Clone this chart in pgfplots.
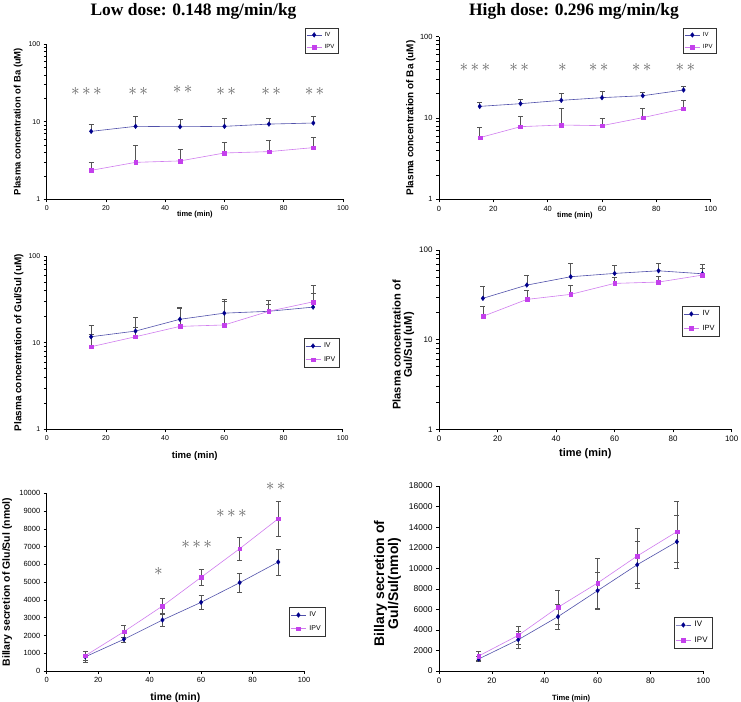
\documentclass[border=0pt]{standalone}
\usepackage{pgfplots}
\pgfplotsset{compat=1.18}
\usepackage{fontspec}
\setmainfont{Liberation Sans}
\newfontfamily\titlefont{Liberation Serif}

\definecolor{ivm}{RGB}{0,0,140}
\definecolor{ivl}{RGB}{80,80,170}
\definecolor{ipvm}{RGB}{196,64,236}
\definecolor{ipvl}{RGB}{208,125,238}
\definecolor{errc}{RGB}{85,85,85}
\definecolor{starc}{RGB}{100,100,100}

\newcommand{\fs}[1]{\fontsize{#1}{#1}\selectfont}
\newcommand{\stars}[1]{\fs{19}$\ifcase#1\or{\ast}\or{\ast}\mkern2.5mu{\ast}\or{\ast}\mkern2.5mu{\ast}\mkern2.5mu{\ast}\fi$}

\pgfplotsset{
  base/.style={
    scale only axis, axis lines*=left, xmin=0, xmax=100, xtick={0,20,...,100},
    tick align=outside, major tick length=3bp, minor tick num=0,
    tick style={black, line width=0.5bp},
    axis line style={black, line width=0.6bp},
    /pgf/number format/assume math mode=true,
    /pgf/number format/set thousands separator={},
    scaled y ticks=false,
    clip=false,
    legend cell align=left,
    legend image code/.code={\draw[mark repeat=2,mark phase=2,##1] plot coordinates {(0bp,0bp) (7.5bp,0bp) (15bp,0bp)};},
  },
  mylogy/.style={ymin=1, ymax=100, ytick={1,10,100}, yticklabels={1,10,100}},
  myleg/.style n args={4}{legend style={at={(rel axis cs:#1,#2)}, anchor=north west,
    font=\fs{#3}, draw=black!80, line width=0.6bp, fill=white,
    inner sep=1bp, row sep=1bp, nodes={inner sep=#4}}},
  iv/.style={color=ivl, line width=0.6bp, mark=diamond*, mark size=2.4bp,
    mark options={fill=ivm, draw=ivm, line width=0.3bp},
    error bars/y dir=#1, error bars/y explicit,
    error bars/error bar style={errc, line width=0.6bp},
    error bars/error mark options={errc, rotate=90, mark size=2.5bp, line width=0.6bp}},
  ipv/.style={color=ipvl, line width=0.6bp, mark=square*, mark size=1.9bp,
    mark options={fill=ipvm, draw=ipvm, line width=0.3bp},
    error bars/y dir=#1, error bars/y explicit,
    error bars/error bar style={errc, line width=0.6bp},
    error bars/error mark options={errc, rotate=90, mark size=2.5bp, line width=0.6bp}},
}

\begin{document}
\begin{tikzpicture}
\path[use as bounding box] (0,0) rectangle (741bp,702bp);

\node[font=\titlefont\bfseries\fs{17.5}] at (193.5bp,690.5bp) {Low dose: 0.148 mg/min/kg};
\node[font=\titlefont\bfseries\fs{17.5}] at (574bp,690.5bp) {High dose: 0.296 mg/min/kg};

% ---------------- Panel 1
\begin{axis}[ymode=log, base, mylogy, at={(46.7bp,502.7bp)}, anchor=south west,
  width=296.3bp, height=155.3bp,
  ticklabel style={font=\fs{7}},
  xlabel={time (min)}, ylabel={Plasma concentration of Ba (uM)},
  xlabel style={font=\bfseries\fs{7.5}, at={(axis description cs:0.5,-0.101)}, anchor=center},
  ylabel style={font=\bfseries\fs{9.5}, at={(axis description cs:-0.096,0.5)}, anchor=center},
  myleg={0.872}{1.103}{6}{2.8bp}]
\addplot[iv=plus] table[y error=e] {
x y e
15 7.5 1.65
30 8.7 3.0
45 8.6 2.1
60 8.7 2.2
75 9.3 1.8
90 9.6 2.1
};
\addlegendentry{IV}
\addplot[ipv=plus] table[y error=e] {
x y e
15 2.36 0.63
30 2.99 1.92
45 3.12 1.28
60 3.95 1.47
75 4.11 1.64
90 4.63 1.66
};
\addlegendentry{IPV}
\node[starc] at (axis cs:13.4,24.3) {\stars{3}};
\node[starc] at (axis cs:30.9,24.3) {\stars{2}};
\node[starc] at (axis cs:45.9,26.1) {\stars{2}};
\node[starc] at (axis cs:60.6,24.3) {\stars{2}};
\node[starc] at (axis cs:75.8,24.3) {\stars{2}};
\node[starc] at (axis cs:90.4,24.3) {\stars{2}};
\end{axis}

% ---------------- Panel 2
\begin{axis}[ymode=log, base, mylogy, at={(439bp,502.7bp)}, anchor=south west,
  width=271.7bp, height=162.6bp,
  ticklabel style={font=\fs{7.5}},
  xlabel={time (min)}, ylabel={Plasma concentration of Ba (uM)},
  xlabel style={font=\bfseries\fs{7.5}, at={(axis description cs:0.5,-0.103)}, anchor=center},
  ylabel style={font=\bfseries\fs{10}, at={(axis description cs:-0.104,0.5)}, anchor=center},
  myleg={0.899}{1.053}{6}{2.8bp}]
\addplot[iv=plus] table[y error=e] {
x y e
15 13.9 1.8
30 15.0 2.0
45 16.5 3.4
60 17.8 3.5
75 18.8 2.1
90 22.1 2.6
};
\addlegendentry{IV}
\addplot[ipv=plus] table[y error=e] {
x y e
15 5.73 1.95
30 7.82 2.78
45 8.2 4.8
60 8.05 1.95
75 10.1 3.1
90 13.0 3.5
};
\addlegendentry{IPV}
\node[starc] at (axis cs:13.2,42) {\stars{3}};
\node[starc] at (axis cs:29.5,42) {\stars{2}};
\node[starc] at (axis cs:45.4,42) {\stars{1}};
\node[starc] at (axis cs:58.8,42) {\stars{2}};
\node[starc] at (axis cs:74.6,42) {\stars{2}};
\node[starc] at (axis cs:90.7,42) {\stars{2}};
\end{axis}

% ---------------- Panel 3
\begin{axis}[ymode=log, base, mylogy, at={(46.7bp,272.7bp)}, anchor=south west,
  width=296bp, height=173.3bp,
  ticklabel style={font=\fs{7}},
  xlabel={time (min)}, ylabel={Plasma concentration of Gul/Sul (uM)},
  xlabel style={font=\bfseries\fs{9.6}, at={(axis description cs:0.5,-0.152)}, anchor=center},
  ylabel style={font=\bfseries\fs{10}, at={(axis description cs:-0.094,0.5)}, anchor=center},
  myleg={0.869}{0.525}{7}{3.2bp}]
\addplot[iv=plus] table[y error=e] {
x y e
15 11.7 4.1
30 13.6 6.0
45 18.6 7.3
60 21.9 8.1
75 23.0 7.5
90 25.7 11.0
};
\addlegendentry{IV}
\addplot[ipv=plus] table[y error=e] {
x y e
15 8.97 3.5
30 11.7 3.2
45 15.4 9.5
60 16.0 15.8
75 23.0 5.0
90 29.6 16.2
};
\addlegendentry{IPV}
\end{axis}

% ---------------- Panel 4
\begin{axis}[ymode=log, base, mylogy, at={(439bp,272.7bp)}, anchor=south west,
  width=292.7bp, height=179.3bp,
  ticklabel style={font=\fs{8}},
  xlabel={time (min)}, ylabel={Plasma concentration of\\Gul/Sul (uM)},
  xlabel style={font=\bfseries\fs{11}, at={(axis description cs:0.5,-0.138)}, anchor=center},
  ylabel style={font=\bfseries\fs{11.2}, align=center, at={(axis description cs:-0.122,0.47)}, anchor=center},
  myleg={0.831}{0.688}{7.5}{3.4bp}]
\addplot[iv=plus] table[y error=e] {
x y e
15 28.9 10.0
30 40.6 11.5
45 50.3 20.5
60 54.8 11.9
75 58.6 12.2
90 54.3 14.8
};
\addlegendentry{IV}
\addplot[ipv=plus] table[y error=e] {
x y e
15 18.2 5.1
30 28.1 7.0
45 32.0 8.3
60 42.4 7.0
75 43.9 7.0
90 52.5 9.2
};
\addlegendentry{IPV}
\end{axis}

% ---------------- Panel 5
\begin{axis}[base, at={(46.7bp,31bp)}, anchor=south west,
  width=257.3bp, height=177.7bp,
  ymin=0, ymax=10000, ytick={0,1000,...,10000},
  ticklabel style={font=\fs{7.5}},
  xlabel={time (min)}, ylabel={Billary secretion of Glu/Sul (nmol)},
  xlabel style={font=\bfseries\fs{10.5}, at={(axis description cs:0.5,-0.148)}, anchor=center},
  ylabel style={font=\bfseries\fs{10.5}, at={(axis description cs:-0.1535,0.5)}, anchor=center},
  myleg={0.943}{0.358}{7}{3.2bp}]
\addplot[iv=both] table[y error=e] {
x y e
15 800 310
30 1783 140
45 2870 330
60 3865 385
75 4970 530
90 6133 740
};
\addlegendentry{IV}
\addplot[ipv=both] table[y error=e] {
x y e
15 860 250
30 2212 340
45 3657 410
60 5272 450
75 6883 645
90 8571 985
};
\addlegendentry{IPV}
\node[starc] at (axis cs:43.4,5588) {\stars{1}};
\node[starc] at (axis cs:58.3,7091) {\stars{3}};
\node[starc] at (axis cs:71.8,8874) {\stars{3}};
\node[starc] at (axis cs:89.0,10371) {\stars{2}};
\end{axis}

% ---------------- Panel 6
\begin{axis}[base, at={(439bp,31bp)}, anchor=south west,
  width=264.3bp, height=185bp,
  ymin=0, ymax=18000, ytick={0,2000,...,18000},
  xticklabel style={font=\fs{8}}, yticklabel style={font=\fs{8.5}},
  xlabel={Time (min)}, ylabel={Billary secretion of\\Gul/Sul(nmol)},
  xlabel style={font=\bfseries\fs{7.6}, at={(axis description cs:0.5,-0.1476)}, anchor=center},
  ylabel style={font=\bfseries\fs{14}, align=center, at={(axis description cs:-0.195,0.474)}, anchor=center},
  myleg={0.890}{0.294}{8}{3.6bp}]
\addplot[iv=both] table[y error=e] {
x y e
15 1168 260
30 3046 800
45 5285 1200
60 7816 1800
75 10343 2250
90 12581 2550
};
\addlegendentry{IV}
\addplot[ipv=both] table[y error=e] {
x y e
15 1459 450
30 3470 900
45 6195 1690
60 8562 2430
75 11190 2650
90 13554 2950
};
\addlegendentry{IPV}
\end{axis}
\end{tikzpicture}
\end{document}
